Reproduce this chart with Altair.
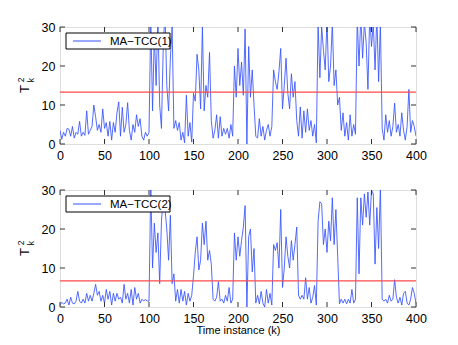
import altair as alt
import pandas as pd

# ---------------- data ----------------
K = list(range(0, 401, 2))

T2_1 = [
    3.5, 1.2, 3.0, 2.0, 4.0, 3.8, 2.0, 4.5, 1.5, 3.0,
    2.5, 5.8, 2.0, 3.0, 2.2, 8.5, 2.5, 3.5, 4.5, 10.0,
    7.0, 3.5, 5.0, 3.0, 9.0, 4.0, 5.5, 2.0, 5.8, 1.0,
    5.5, 3.0, 8.0, 10.8, 2.0, 9.4, 3.0, 5.0, 10.6, 3.5,
    1.0, 5.0, 3.0, 7.5, 4.5, 6.5, 2.0, 1.0, 3.0, 2.0,
    3.0, 32, 8.5, 28, 15, 33, 10, 4.0, 25, 34,
    15, 8.5, 22, 30, 4.0, 6.0, 3.5, 5.5, 1.0, 3.0,
    0.3, 12.5, 2.0, 5.5, 0.5, 13, 11, 23, 19, 9,
    30, 8.5, 15, 12, 23.5, 6.0, 1.5, 3.5, 7.5, 1.5,
    7.0, 2.0, 4.0, 2.5, 4.0, 1.5, 5.0, 2.0, 20, 12,
    24.5, 15, 21, 12.5, 29.5, 0.0, 25, 12, 19, 10,
    2.0, 1.5, 6.5, 2.0, 4.5, 1.0, 3.5, 5.0, 2.0, 4.5,
    19, 16, 14, 18.5, 24.5, 9, 15, 22, 13, 9,
    18, 12, 16, 6, 2.0, 9.5, 1.5, 8.5, 3.0, 9.0,
    3.5, 6.0, 2.0, 5.0, 0.3, 31, 17, 30, 24, 19,
    32, 16, 20, 31, 15, 19, 10, 12, 3.5, 8.0,
    2.0, 5.5, 1.0, 7.5, 2.0, 5.0, 2.5, 32, 20, 33,
    22, 31, 26, 14, 33, 25, 31, 19, 33, 16,
    31, 4.0, 1.0, 7.5, 3.0, 6.0, 2.0, 4.5, 10.5, 3.0,
    5.0, 2.0, 8.0, 3.5, 1.0, 4.5, 14, 3.0, 6.0, 4.5,
    2.0,
]

T2_2 = [
    0.5, 1.2, 0.8, 1.0, 2.0, 0.5, 2.5, 1.0, 0.8, 1.5,
    4.0, 1.5, 1.0, 2.0, 1.0, 3.5, 1.5, 3.0, 1.5, 3.5,
    5.8, 3.0, 4.0, 1.5, 3.0, 1.0, 4.5, 2.0, 4.0, 0.5,
    3.5, 1.5, 3.5, 2.0, 2.5, 1.0, 5.8, 2.0, 3.5, 1.0,
    4.5, 0.5, 5.0, 2.0, 3.5, 1.0, 2.0, 1.5, 2.0, 1.5,
    1.5, 31, 10, 21.5, 14, 19, 6, 22, 28, 25,
    20, 12, 23.5, 6, 8.5, 1.5, 4.5, 1.0, 4.5, 1.5,
    4.0, 0.5, 3.5, 1.5, 3.0, 8.0, 14, 18, 9.5, 12,
    21.5, 16, 22, 12, 14.5, 11, 2.0, 1.5, 2.5, 6.5,
    1.5, 2.0, 1.0, 3.0, 1.5, 5.0, 1.0, 2.0, 19, 12,
    18, 13, 17, 20.5, 26, 0.0, 18, 20, 9.0, 15,
    1.0, 3.0, 0.8, 4.0, 1.0, 0.0, 4.5, 1.0, 3.5, 0.5,
    16, 14.5, 16.5, 10, 25, 5.0, 10, 18, 13, 10,
    17, 12, 16, 20.5, 3.0, 2.0, 3.0, 2.0, 7.5, 2.0,
    5.0, 1.0, 2.5, 5.5, 0.5, 22, 27, 26.5, 16, 20,
    14, 22, 17, 28, 16, 25, 13, 0.8, 2.0, 1.0,
    2.0, 0.8, 2.0, 1.0, 4.5, 1.0, 2.0, 28, 8.5, 28,
    21, 29, 23, 29.5, 21, 30, 29, 11, 25.5, 15,
    31, 2.0, 1.5, 2.0, 1.0, 3.0, 1.5, 2.0, 7.0, 2.5,
    1.0, 2.5, 0.5, 3.5, 4.0, 1.0, 0.5, 2.0, 5.0, 3.5,
    1.0,
]

LIMITS = [13.3, 6.7]
NAMES = ["MA\u2212TCC(1)", "MA\u2212TCC(2)"]
X_TICKS = [0, 50, 100, 150, 200, 250, 300, 350, 400]
Y_TICKS = [0, 10, 20, 30]
X_TITLE = "Time instance (k)"

W, H = 356, 117
FONT = "Liberation Sans"
BLUE = "#3552ff"
RED = "#ff4a4a"
AX = "#333333"


def panel(values, limit, name, show_xtitle):
    df = pd.DataFrame({"k": K, "t2": values})
    xaxis = dict(values=X_TICKS, ticks=False, domain=False, grid=False,
                 labelPadding=5, labelFontSize=12.5, labelFont=FONT,
                 labelColor="black", labelFlush=False)
    if show_xtitle:
        xaxis.update(title=X_TITLE, titleFontSize=11, titleFont=FONT,
                     titleFontWeight="normal", titlePadding=0, titleColor="black")
    else:
        xaxis.update(title="")
    x = alt.X("k:Q", scale=alt.Scale(domain=[0, 400], nice=False, zero=False),
              axis=alt.Axis(**xaxis))
    y = alt.Y("t2:Q", scale=alt.Scale(domain=[0, 30], nice=False),
              axis=alt.Axis(values=Y_TICKS, ticks=False, domain=False, grid=False,
                            labelPadding=5, labelFontSize=12.5, labelFont=FONT,
                            labelColor="black", title=""))

    line = alt.Chart(df).mark_line(clip=True, color=BLUE, strokeWidth=0.85).encode(x=x, y=y)
    rule = alt.Chart(pd.DataFrame({"t2": [limit]})).mark_rule(
        color=RED, strokeWidth=1.1).encode(y=y)

    xt = pd.DataFrame({"k": X_TICKS})
    yt = pd.DataFrame({"t2": Y_TICKS})
    xt_b = alt.Chart(xt).mark_rule(color=AX).encode(x=x, y=alt.value(H), y2=alt.value(H - 5))
    xt_t = alt.Chart(xt).mark_rule(color=AX).encode(x=x, y=alt.value(0), y2=alt.value(5))
    yt_l = alt.Chart(yt).mark_rule(color=AX).encode(y=y, x=alt.value(0), x2=alt.value(5))
    yt_r = alt.Chart(yt).mark_rule(color=AX).encode(y=y, x=alt.value(W - 5), x2=alt.value(W))

    one = pd.DataFrame({"n": [name]})
    lg_box = alt.Chart(one).mark_rect(fill="white", stroke="black", strokeWidth=1).encode(
        x=alt.value(6), x2=alt.value(110), y=alt.value(6), y2=alt.value(22))
    lg_line = alt.Chart(one).mark_rule(color=BLUE, strokeWidth=1).encode(
        x=alt.value(13), x2=alt.value(41), y=alt.value(14))
    lg_text = alt.Chart(one).mark_text(align="left", baseline="middle", fontSize=11.5,
                                       font=FONT, color="black").encode(
        x=alt.value(50), y=alt.value(14.5), text="n:N")

    lab = pd.DataFrame({"t": ["T"], "s": ["2"], "b": ["k"]})
    t_main = alt.Chart(lab).mark_text(angle=270, fontSize=13, font=FONT, color="black",
                                      align="center", baseline="middle").encode(
        x=alt.value(-35), y=alt.value(62), text="t:N")
    t_sup = alt.Chart(lab).mark_text(angle=270, fontSize=8.5, font=FONT, color="black",
                                     align="center", baseline="middle").encode(
        x=alt.value(-39), y=alt.value(53), text="s:N")
    t_sub = alt.Chart(lab).mark_text(angle=270, fontSize=8.5, font=FONT, color="black",
                                     align="center", baseline="middle").encode(
        x=alt.value(-29), y=alt.value(53), text="b:N")

    return alt.layer(line, rule, xt_b, xt_t, yt_l, yt_r, lg_box, lg_line, lg_text,
                     t_main, t_sup, t_sub).properties(width=W, height=H)


top = panel(T2_1, LIMITS[0], NAMES[0], False)
bottom = panel(T2_2, LIMITS[1], NAMES[1], True)

chart = alt.vconcat(top, bottom, spacing=21).properties(
    padding={"left": 8, "top": 12, "right": 5, "bottom": 5}
).configure_view(stroke=AX, strokeWidth=1).configure(background="white")

chart.save("out.html", embed_options={"renderer": "svg", "actions": False})
